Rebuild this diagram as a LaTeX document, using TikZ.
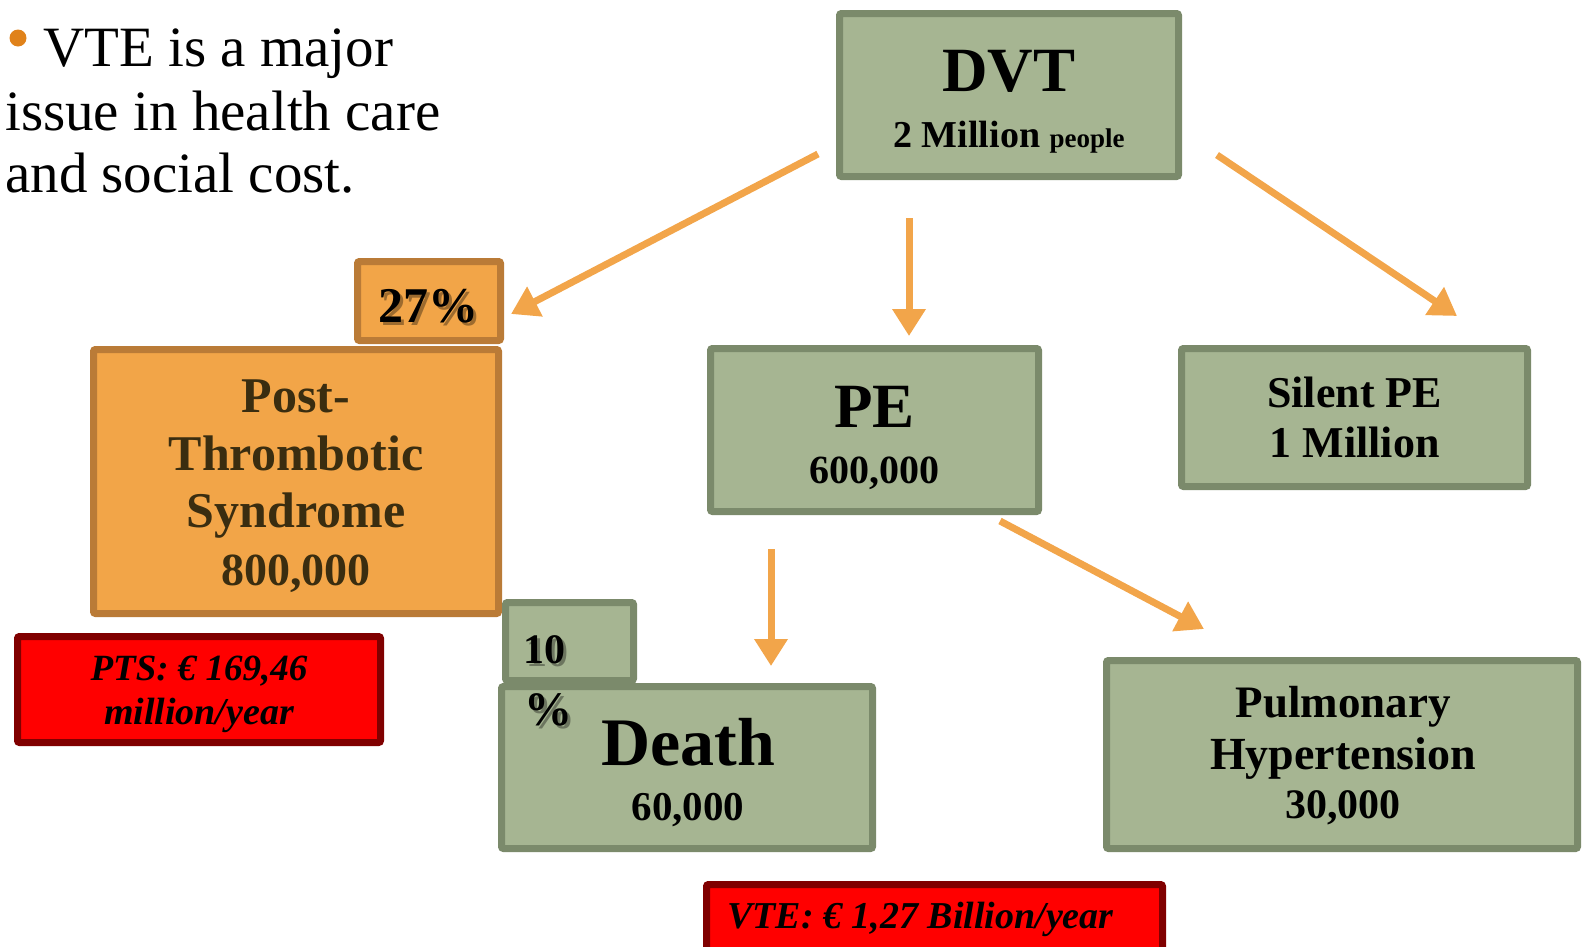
\documentclass[tikz,border=0pt]{standalone}
\usepackage{fontspec}
\setmainfont{Liberation Serif}
\usetikzlibrary{arrows.meta}
\definecolor{gfill}{HTML}{A6B592}
\definecolor{gdraw}{HTML}{7B8A6B}
\definecolor{ofill}{HTML}{F2A548}
\definecolor{odraw}{HTML}{BA7B37}
\definecolor{rfill}{HTML}{FF0000}
\definecolor{rdraw}{HTML}{800000}
\definecolor{arrowc}{HTML}{F2A54A}
\definecolor{bulletc}{HTML}{E0821A}
\definecolor{ptstext}{HTML}{3A2D10}
\newcommand{\fs}[2]{\fontsize{#1}{#2}\selectfont}
\begin{document}
\begin{tikzpicture}[x=1pt,y=-1pt,
  boxbase/.style={rectangle,line width=7pt,rounded corners=2pt,inner sep=0pt},
  gbox/.style={boxbase,draw=gdraw,fill=gfill},
  obox/.style={boxbase,draw=odraw,fill=ofill},
  rbox/.style={boxbase,draw=rdraw,fill=rfill},
  txt/.style={inner sep=0pt,anchor=base},
  shd/.style={txt,text=black,opacity=0.35},
  flow/.style={draw=arrowc,line width=7pt,-{Triangle[width=32pt,length=27pt]}}]
\useasboundingbox (0,0) rectangle (1587,946);

% bullet text
\node[circle,fill=bulletc,inner sep=0pt,minimum size=17pt] (bul) at (18,38) {};
\node[inner sep=0pt,anchor=base west,font=\fs{57}{63}] (l1) at (43,66) {VTE is a major};
\node[inner sep=0pt,anchor=base west,font=\fs{57}{63}] (l2) at (5,130) {issue in health care};
\node[inner sep=0pt,anchor=base west,font=\fs{57}{63}] (l3) at (5,192) {and social cost.};

% boxes
\node[gbox,minimum width=339pt,minimum height=163pt] (dvt) at (1009,95) {};
\node[obox,minimum width=405pt,minimum height=264pt] (pts) at (296,481.5) {};
\node[obox,minimum width=143pt,minimum height=79pt] (p27) at (429,301) {};
\node[gbox,minimum width=328pt,minimum height=163pt] (pe) at (874.5,430) {};
\node[gbox,minimum width=346pt,minimum height=138pt] (silent) at (1354.5,417.5) {};
\node[gbox,minimum width=128pt,minimum height=78pt] (p10) at (569.5,641.5) {};
\node[gbox,minimum width=371pt,minimum height=162pt] (death) at (687,767.5) {};
\node[gbox,minimum width=471pt,minimum height=188pt] (ph) at (1342,754.5) {};
\node[rbox,minimum width=363pt,minimum height=106pt] (ptscost) at (199,689.5) {};
\node[rbox,minimum width=456pt,minimum height=80pt] (vtecost) at (934.5,924.5) {};

% texts
\node[txt,font=\bfseries\fs{63}{63}] (tdvt) at (1009,91) {DVT};
\node[txt,font=\bfseries\fs{38}{38}] (tdvt2) at (1009,147) {2 Million {\fs{27}{27}people}};

\node[txt,font=\bfseries\fs{63}{63}] (tpe) at (874.5,427) {PE};
\node[txt,font=\bfseries\fs{40}{40}] (tpe2) at (874.5,483) {600,000};

\node[txt,font=\bfseries\fs{44}{44}] (ts1) at (1354.5,407) {Silent PE};
\node[txt,font=\bfseries\fs{44}{44}] (ts2) at (1354.5,457) {1 Million};

\node[txt,font=\bfseries\fs{50}{50},text=ptstext] (tp1) at (296,412) {Post-};
\node[txt,font=\bfseries\fs{50}{50},text=ptstext] (tp2) at (296,470) {Thrombotic};
\node[txt,font=\bfseries\fs{50}{50},text=ptstext] (tp3) at (296,527) {Syndrome};
\node[txt,font=\bfseries\fs{46}{46},text=ptstext] (tp4) at (296,585) {800,000};

\node[txt,font=\bfseries\fs{68}{68}] (td1) at (688,765) {Death};
\node[txt,font=\bfseries\fs{41}{41}] (td2) at (688,820) {60,000};

\node[txt,font=\bfseries\fs{45}{45}] (th1) at (1343,717) {Pulmonary};
\node[txt,font=\bfseries\fs{46}{46}] (th2) at (1343,769) {Hypertension};
\node[txt,font=\bfseries\fs{42}{42}] (th3) at (1343,818) {30,000};

\node[shd,font=\bfseries\fs{50}{50}] (s27) at (431,325) {27\%};
\node[txt,font=\bfseries\fs{50}{50}] (t27) at (428,322) {27\%};

\node[shd,anchor=base west,font=\bfseries\fs{42}{42}] (s10a) at (526,666) {10};
\node[txt,anchor=base west,font=\bfseries\fs{42}{42}] (t10a) at (523,663) {10};
\node[shd,anchor=base west,font=\bfseries\fs{48}{48}] (s10b) at (527,728) {\%};
\node[txt,anchor=base west,font=\bfseries\fs{48}{48}] (t10b) at (524,725) {\%};

\node[txt,font=\bfseries\itshape\fs{37}{37}] (tc1) at (199,680) {PTS: € 169,46};
\node[txt,font=\bfseries\itshape\fs{38}{38}] (tc2) at (199,724) {million/year};
\node[txt,anchor=base west,font=\bfseries\itshape\fs{38}{38}] (tv1) at (727,928) {VTE: € 1,27 Billion/year};

% connectors
\draw[flow] ([shift={(-18,-26)}]dvt.south west) -- ([shift={(7,13)}]p27.east);
\draw[flow] ([shift={(-100,38)}]dvt.south) -- ([shift={(34.5,-9)}]pe.north);
\draw[flow] ([shift={(35,-25)}]dvt.south east) -- ([shift={(-74,-29)}]silent.north east);
\draw[flow] ([shift={(-103.5,34)}]pe.south) -- ([shift={(84,-17)}]death.north);
\draw[flow] ([shift={(-42,6)}]pe.south east) -- ([shift={(101,-28)}]ph.north west);
\end{tikzpicture}
\end{document}
